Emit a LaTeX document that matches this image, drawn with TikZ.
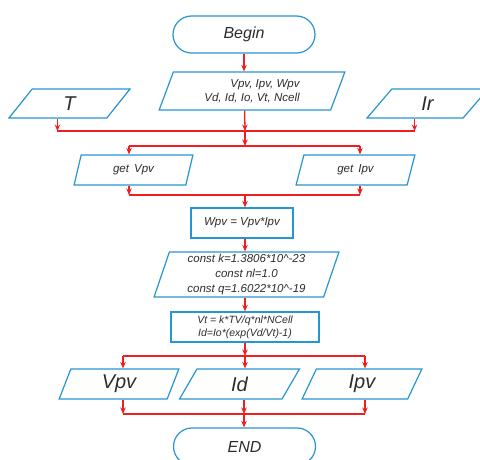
\documentclass[tikz,border=0pt]{standalone}
\usepackage{fontspec}
\setmainfont{Liberation Sans}
\usetikzlibrary{shapes.geometric,shapes.misc,arrows.meta}
\definecolor{bl}{RGB}{38,150,210}
\definecolor{rd}{RGB}{240,30,30}
\definecolor{tx}{RGB}{45,45,45}
\tikzset{
  base/.style={draw=bl, line width=1.2pt, text=tx, inner sep=0pt, font=\itshape\fontsize{11.5}{14}\selectfont},
  para/.style={base, trapezium, trapezium stretches=true, trapezium left angle=#1, trapezium right angle=180-#1},
  box/.style={base, rectangle},
  term/.style={base, rounded rectangle, minimum width=142pt, minimum height=37pt, font=\itshape\fontsize{16}{18}\selectfont},
  big/.style={font=\itshape\fontsize{20}{22}\selectfont},
  rl/.style={draw=rd, line width=1.3pt},
  arr/.style={rl, -{Stealth[length=6.5pt,width=5.5pt]}}
}
\begin{document}
\begin{tikzpicture}[x=1pt,y=-1pt]
\useasboundingbox (0,0) rectangle (480,460);
\clip (0,0) rectangle (480,460);
\fill[white] (0,0) rectangle (480,460);
% nodes
\node[term] (begin) at (244,34.5) {Begin};
\node[para=69.8, minimum width=186pt, minimum height=38pt, align=right] (inp) at (252,91) {Vpv, Ipv, Wpv\\Vd, Id, Io, Vt, Ncell};
\node[para=74.6, minimum width=121pt, minimum height=29pt, big] (T) at (69.5,103.5) {T};
\node[para=72.8, minimum width=121pt, minimum height=29pt, big] (Ir) at (427.5,103.5) {Ir};
\node[para=75, minimum width=119pt, minimum height=30pt] (getV) at (133.5,170) {get\, Vpv\hspace{28pt}};
\node[para=75, minimum width=119pt, minimum height=30pt] (getI) at (355.5,170) {get\, Ipv\hspace{8pt}};
\node[box, minimum width=102pt, minimum height=30pt] (wpv) at (242,223) {Wpv = Vpv*Ipv};
\node[para=73.9, minimum width=185pt, minimum height=45pt, align=center, font=\itshape\fontsize{11.5}{15}\selectfont] (const) at (246.5,274.5) {const k=1.3806*10\^{}-23\\const nl=1.0\\const q=1.6022*10\^{}-19};
\node[box, minimum width=148pt, minimum height=30pt, align=center, font=\itshape\fontsize{10.5}{13}\selectfont] (vt) at (245,327) {Vt = k*TV/q*nl*NCell\\Id=Io*(exp(Vd/Vt)-1)};
\node[para=76.9, minimum width=120pt, minimum height=30pt, big] (oV) at (119,384) {Vpv};
\node[para=76.9, minimum width=120pt, minimum height=30pt, big] (oI) at (239.5,384) {Id};
\node[para=76.9, minimum width=120pt, minimum height=30pt, big] (oP) at (362,384) {Ipv};
\node[term] (end) at (244.5,446.5) {END};
% junction coordinates
\coordinate (m1) at (245,131);
\coordinate (s1) at (245,146);
\coordinate (m2) at (245,195);
\coordinate (s3) at (245,356);
\coordinate (m3) at (244,414);
\coordinate (xL) at (129,0);
\coordinate (xR) at (360,0);
\coordinate (oL) at (123,0);
\coordinate (oR) at (365,0);
% connectors
\draw[arr] (begin.south) -- (begin.south |- inp.north);
\draw[rl] (T.bottom side |- m1) -- (Ir.bottom side |- m1);
\draw[arr] (T.bottom side) -- (T.bottom side |- m1);
\draw[arr] (Ir.bottom side) -- (Ir.bottom side |- m1);
\draw[arr] (inp.bottom side) -- (m1);
\draw[arr] (m1) -- (s1);
\draw[rl] (xL |- s1) -- (xR |- s1);
\draw[arr] (xL |- s1) -- (xL |- getV.north);
\draw[arr] (xR |- s1) -- (xR |- getI.north);
\draw[arr] (xL |- getV.south) -- (xL |- m2);
\draw[arr] (xR |- getI.south) -- (xR |- m2);
\draw[rl] (xL |- m2) -- (xR |- m2);
\draw[arr] (m2) -- (m2 |- wpv.north);
\draw[arr] (m2 |- wpv.south) -- (m2 |- const.north);
\draw[arr] (m2 |- const.south) -- (m2 |- vt.north);
\draw[arr] (vt.south) -- (s3);
\draw[rl] (oL |- s3) -- (oR |- s3);
\draw[arr] (oL |- s3) -- (oL |- oV.north);
\draw[arr] (s3) -- (s3 |- oI.north);
\draw[arr] (oR |- s3) -- (oR |- oP.north);
\draw[arr] (oL |- oV.south) -- (oL |- m3);
\draw[arr] (m3 |- oI.south) -- (m3);
\draw[arr] (oR |- oP.south) -- (oR |- m3);
\draw[rl] (oL |- m3) -- (oR |- m3);
\draw[arr] (m3) -- (m3 |- end.north);
\end{tikzpicture}
\end{document}
